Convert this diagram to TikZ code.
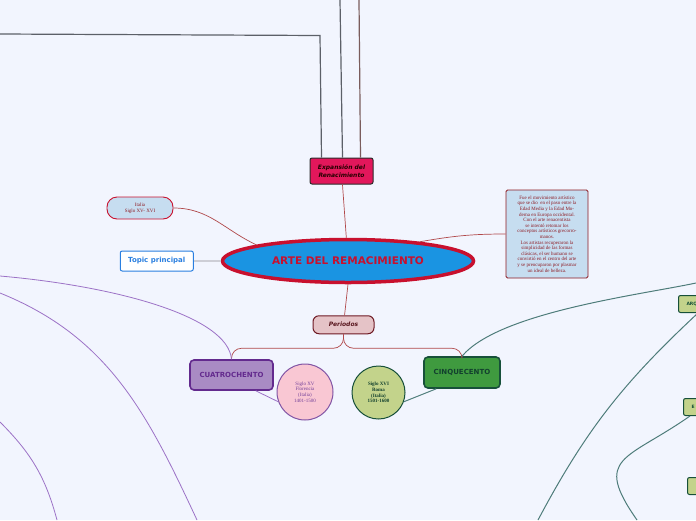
\documentclass[tikz,border=0pt]{standalone}
\usepackage{fontspec}
\setmainfont{Liberation Serif}
\newfontfamily\labelfont{DejaVu Sans}
\usepackage{xcolor}
\usetikzlibrary{positioning, shapes.geometric, arrows.meta, calc}

\definecolor{bgcol}{HTML}{F2F5FE}
\definecolor{crimson}{HTML}{C8102E}
\definecolor{mainblue}{HTML}{1A94E2}
\definecolor{expfill}{HTML}{E2175B}
\definecolor{darkline}{HTML}{2B2B2B}
\definecolor{paleblue}{HTML}{C6DDF0}
\definecolor{darkred}{HTML}{8E1B23}
\definecolor{topicblue}{HTML}{2A7FE0}
\definecolor{perfill}{HTML}{E5C3C7}
\definecolor{perline}{HTML}{6E1A24}
\definecolor{purfill}{HTML}{A98BC4}
\definecolor{purline}{HTML}{632A8E}
\definecolor{pinkfill}{HTML}{F9C7D3}
\definecolor{leaffill}{HTML}{C3D38B}
\definecolor{greenline}{HTML}{17503A}
\definecolor{cinqfill}{HTML}{3F9A3F}
\definecolor{redcon}{HTML}{B0484A}
\definecolor{purcon}{HTML}{9C72C6}
\definecolor{tealcon}{HTML}{4E7C7A}
\definecolor{graycon}{HTML}{5C6068}
\definecolor{browncon}{HTML}{7A5C5C}
\definecolor{topiccon}{HTML}{CDCED6}

\begin{document}
\begin{tikzpicture}[x=1pt, y=-1pt,
  mainidea/.style={ellipse, draw=crimson, line width=3.5pt, fill=mainblue, minimum width=251pt, minimum height=43pt, text=crimson, font=\labelfont\bfseries\fontsize{10.5}{12}\selectfont},
  notebox/.style={draw=#1, line width=0.9pt, align=center, inner sep=2pt, font=\fontsize{5}{5.6}\selectfont},
  redline/.style={redcon, line width=0.7pt},
  purpleline/.style={purcon, line width=0.8pt},
  tealline/.style={tealcon, line width=1pt},
  grayline/.style={graycon, line width=1.2pt},
  periodbox/.style={draw=#1, line width=1.6pt, rounded corners=4pt, font=\labelfont\bfseries\fontsize{7}{8}\selectfont},
  yearcircle/.style={circle, draw=#1, line width=1pt, align=center, inner sep=1pt, font=\fontsize{5}{5.8}\selectfont},
  smallbox/.style={draw=greenline, fill=leaffill, line width=1pt, rounded corners=2pt, anchor=north west, inner xsep=8pt, minimum height=17pt, text=greenline, font=\labelfont\bfseries\fontsize{4.5}{5}\selectfont}
]
\useasboundingbox (0,0) rectangle (696,520);
\fill[bgcol] (0,0) rectangle (696,520);
\clip (0,0) rectangle (696,520);

% Central idea
\node[mainidea] (arte) at (348,261) {ARTE DEL REMACIMIENTO};

% Topics round the centre
\node[draw=darkline, fill=expfill, line width=1pt, rounded corners=2pt, minimum width=63pt, minimum height=26pt, align=center, text=black!85!red, font=\labelfont\bfseries\itshape\fontsize{6}{8}\selectfont] (expansion) at (341.5,171) {Expansión del\\Renacimiento};
\node[notebox=crimson, fill=paleblue, rounded corners=10pt, minimum width=66pt, minimum height=22pt, text=darkred] (italia) at (140,208) {Italia\\Siglo XV- XVI};
\node[draw=topicblue, fill=white, line width=1pt, rounded corners=2pt, minimum width=73pt, minimum height=20pt, text=topicblue, font=\labelfont\bfseries\fontsize{7}{8}\selectfont, left=27pt of arte] (topic) {Topic principal};
\node[notebox=darkred, fill=paleblue, rounded corners=1.5pt, minimum width=82pt, minimum height=88pt, text=darkred] (fue) at (547,234) {Fue el movimiento artístico\\que se dio\ \ en el paso entre la\\Edad Media y la Edad Mo-\\derna en Europa occidental.\\Con el arte renacentista\\se intentó retomar los\\conceptos artísticos grecorro-\\manos.\\Los artistas recuperaron la\\simplicidad de las formas\\clásicas, el ser humano se\\convirtió en el centro del arte\\y se preocuparon por plasmar\\un ideal de belleza.};
\node[draw=perline, fill=perfill, line width=1pt, rounded corners=6pt, minimum width=61pt, minimum height=18pt, text=perline!80!black, font=\labelfont\bfseries\itshape\fontsize{6}{7}\selectfont, below=31pt of arte, xshift=-4.5pt] (periodos) {Periodos};

% Periods
\node[periodbox=purline, fill=purfill, minimum width=83pt, minimum height=30pt, text=purline] (cuatro) at (231.5,375) {CUATROCHENTO};
\node[periodbox=greenline, fill=cinqfill, minimum width=76pt, minimum height=31pt, text=greenline!80!black] (cinque) at (462,372.5) {CINQUECENTO};
\node[yearcircle=purline!80, fill=pinkfill, minimum size=56pt, text=purline!90] (florencia) at (305,392) {Siglo XV\\Florencia\\(Italia)\\1401-1500};
\node[yearcircle=greenline, fill=leaffill, minimum size=53pt, text=greenline!80!black, font=\bfseries\fontsize{5}{5.8}\selectfont] (roma) at (378.5,392.5) {Siglo XVI\\Roma\\(Italia)\\1501-1600};

% Boxes cut by the right edge
\foreach \name/\x/\y/\txt in {arq/678/295/ARQ, esc/683/398/E, pin/687/477/} {
    \node[smallbox] (\name) at (\x,\y) {\txt};
}

% Free ends of the connectors
\coordinate (g1) at (0,34);
\coordinate (g1c) at (320,35.5);
\coordinate (g2) at (340,0);
\coordinate (g3) at (359,0);
\coordinate (p1) at (0,276);
\coordinate (p2) at (0,293);
\coordinate (p3) at (197,520);
\coordinate (p4) at (0,422);
\coordinate (p5) at (57,520);
\coordinate (t1) at (696,283);
\coordinate (t2) at (538,520);
\coordinate (t3) at (637,520);

% Connectors
\draw[grayline] (g1) -- (g1c) -- ([xshift=12pt]expansion.north west);
\draw[grayline] (g2) -- ([xshift=33pt]expansion.north west);
\draw[grayline, browncon] (g3) -- ([xshift=51pt]expansion.north west);
\draw[redline] (expansion) -- (arte);
\draw[redline] (italia.east) to[out=0, in=155] (arte.170);
\draw[topiccon, line width=1.5pt] (topic) -- (arte);
\draw[redline] (arte.15) to[out=10, in=180] (fue.west);
\draw[redline] (arte.south) -- (periodos);
\draw[redline, rounded corners=10pt] (periodos.south) -- ++(0,14) -| (cuatro.north);
\draw[redline, rounded corners=10pt] (periodos.south) -- ++(0,14) -| (cinque.north);
\draw[purpleline] ([xshift=-18pt]cuatro.south east) -- (florencia.200);
\draw[tealline] ([xshift=13pt]cinque.south west) -- (roma.-20);
\draw[purpleline] (cuatro.north) to[out=95, in=-5, out looseness=0.45, in looseness=1.2] (p1);
\draw[purpleline] (p2) to[out=-22, in=115] (p3);
\draw[purpleline] (p4) to[out=-45, in=105] (p5);
\draw[tealline] (cinque.north) to[out=50, in=192, looseness=0.6] (t1);
\draw[tealline] ([xshift=20pt]arq.south west) to[out=-137, in=62] (t2);
\draw[tealline] ([xshift=7pt]esc.south west) to[out=-145, in=125, looseness=1.7] (t3);

\end{tikzpicture}
\end{document}
